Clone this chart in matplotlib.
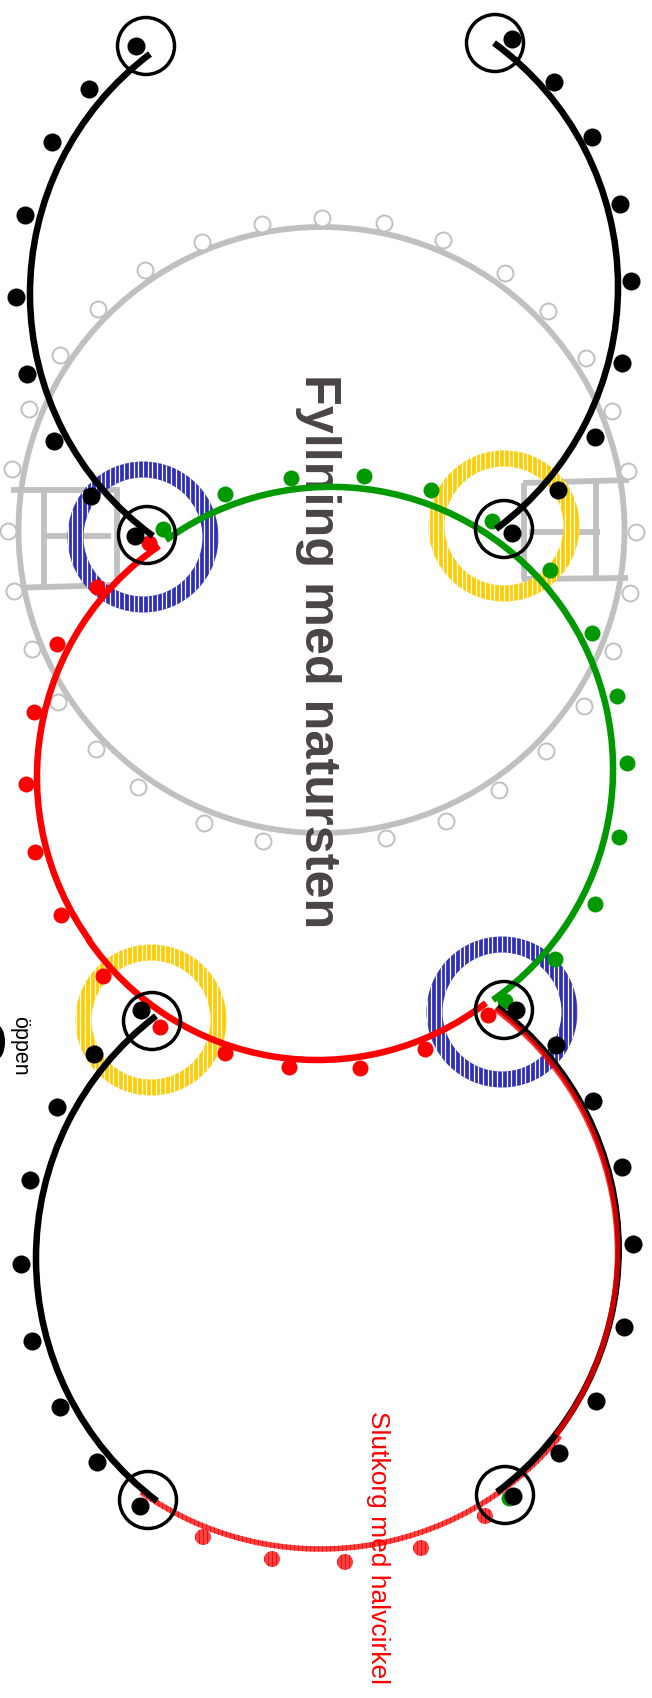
import numpy as np
import matplotlib
matplotlib.use("Agg")
import matplotlib.pyplot as plt
from matplotlib.patches import Wedge, Circle, Ellipse

RED = "#ff0000"
GREEN = "#009900"
BLUE = "#2e2eb8"
YELLOW = "#ffcc00"
GREY = "#c0c0c0"
TEXT_GREY = "#4a4444"

grey_x = [322, 384, 443, 505, 548, 586, 612, 628, 636, 630, 613, 584, 546, 499, 446, 386, 263, 204, 138, 96, 58, 32, 14, 8, 12, 29, 60, 98, 145, 202, 262]
grey_y = [219, 224, 241, 274, 312, 359, 412, 472, 533, 594, 652, 707, 752, 791, 822, 839, 842, 824, 788, 750, 703, 650, 592, 532, 470, 410, 356, 310, 271, 243, 225]

black_top_x = [136, 89, 52, 25, 16, 27, 54, 91, 135, 512, 554, 592, 620, 631, 622, 595, 558, 512]
black_top_y = [47, 90, 143, 216, 298, 375, 442, 497, 537, 40, 83, 138, 205, 282, 364, 438, 491, 534]
black_low_x = [141, 94, 57, 30, 21, 32, 60, 97, 140, 516, 556, 593, 622, 633, 624, 596, 559, 513]
black_low_y = [1011, 1055, 1108, 1181, 1265, 1342, 1408, 1463, 1507, 1011, 1046, 1102, 1168, 1245, 1328, 1402, 1454, 1497]

green_x = [163, 225, 291, 364, 431, 492, 550, 592, 617, 627, 619, 595, 555, 505, 509]
green_y = [530, 495, 479, 477, 491, 522, 571, 634, 697, 764, 838, 905, 960, 1002, 1499]

red_x = [149, 97, 57, 34, 26, 35, 61, 103, 160, 225, 289, 360, 425, 488]
red_y = [544, 588, 645, 713, 785, 853, 916, 977, 1028, 1054, 1068, 1069, 1050, 1016]

basket_x = [485, 421, 345, 272, 203]
basket_y = [1517, 1549, 1563, 1560, 1538]

ring_x = [146, 495, 147, 504, 152, 504, 148, 505]
ring_y = [47, 44, 536, 530, 1022, 1011, 1501, 1496]

blue_ring_x = [143, 502]
blue_ring_y = [538, 1013]
yellow_ring_x = [504, 151]
yellow_ring_y = [527, 1021]

# arcs as start, middle, end
black_arcs = [
    [(150, 55), (30, 292), (153, 537)],
    [(494, 44), (618, 290), (496, 530)],
    [(156, 1017), (36, 1258), (157, 1502)],
    [(497, 1008), (618.7, 1250), (497, 1493)],
]
green_arc = [(166, 541), (340, 488), (493, 1001)]
red_arcs = [
    [(159, 547), (37, 783), (90, 942)],
    [(88, 940), (320, 1061), (486, 1004)],
]
basket_arc_full = [(141, 1493), (320, 1550), (560, 1437)]
basket_arc_upper = [(495, 1010), (617.5, 1250), (556, 1436)]

# grey stands: (x0, y0, x1, y1)
stands_x0 = [11, 117, 9, 44, 41, 523, 524, 522, 596, 529]
stands_y0 = [491, 491, 589, 491, 537, 484, 484, 580, 483, 533]
stands_x1 = [120, 117, 117, 44, 111, 629, 524, 628, 596, 600]
stands_y1 = [491, 585, 586, 589, 537, 481, 580, 579, 580, 533]

# the cut-off black shape at the left edge
blob_x = -3
blob_y = 1043


def arc_wedge(pts, width, **kwargs):
    (ax_, ay), (bx, by), (cx, cy) = pts
    d = 2 * (ax_ * (by - cy) + bx * (cy - ay) + cx * (ay - by))
    ux = ((ax_**2 + ay**2) * (by - cy) + (bx**2 + by**2) * (cy - ay) + (cx**2 + cy**2) * (ay - by)) / d
    uy = ((ax_**2 + ay**2) * (cx - bx) + (bx**2 + by**2) * (ax_ - cx) + (cx**2 + cy**2) * (bx - ax_)) / d
    r = np.hypot(ax_ - ux, ay - uy)
    t0 = np.degrees(np.arctan2(ay - uy, ax_ - ux)) % 360
    t1 = np.degrees(np.arctan2(by - uy, bx - ux)) % 360
    t2 = np.degrees(np.arctan2(cy - uy, cx - ux)) % 360
    if (t1 - t0) % 360 > (t2 - t0) % 360:
        t0, t2 = t2, t0
    return Wedge((ux, uy), r + width / 2, t0, t2, width=width, linewidth=0, **kwargs)


def stripes(patch, x0, x1, color, lw, zorder, step=4.7):
    lines = ax.vlines(np.arange(x0, x1, step), 0, 1699, colors=color, linewidth=lw, zorder=zorder)
    lines.set_clip_path(patch)


fig = plt.figure(figsize=(6.52, 16.99), dpi=100)
ax = fig.add_axes([0, 0, 1, 1])
ax.set_xlim(0, 652)
ax.set_ylim(1699, 0)
ax.axis("off")

# grey layer
ax.add_patch(Circle((321.5, 531), 303, fill=False, edgecolor=GREY, linewidth=4.2, zorder=1))
for x0, y0, x1, y1 in zip(stands_x0, stands_y0, stands_x1, stands_y1):
    ax.plot([x0, x1], [y0, y1], color=GREY, linewidth=4.2, solid_capstyle="butt", zorder=1)
ax.plot(grey_x, grey_y, "o", ms=11.5, mfc="white", mec=GREY, mew=1.4, ls="none", zorder=2)

# striped rings
for xs, ys, col in [(blue_ring_x, blue_ring_y, BLUE), (yellow_ring_x, yellow_ring_y, YELLOW)]:
    for cx, cy in zip(xs, ys):
        w = Wedge((cx, cy), 75.5, 0, 360, width=16, facecolor=col, linewidth=0, zorder=3)
        ax.add_patch(w)
        stripes(w, cx - 80, cx + 80, "white", 0.9, 3.1)

ax.text(305, 374, "Fyllning med natursten", rotation=-90, rotation_mode="anchor", ha="left", va="baseline",
        family="Liberation Sans", weight="bold", fontsize=36.3, color=TEXT_GREY, zorder=4)
ax.text(371, 1411, "Slutkorg med halvcirkel", rotation=-90, rotation_mode="anchor", ha="left", va="baseline",
        family="Liberation Sans", fontsize=19, color=RED, zorder=4)
ax.text(14, 1016, "öppen", rotation=-90, rotation_mode="anchor", ha="left", va="baseline",
        family="Liberation Sans", fontsize=15.5, color="black", zorder=4)
ax.add_patch(Ellipse((blob_x, blob_y), 16, 34, facecolor="black", linewidth=0, zorder=4))

# green and red routes
ax.add_patch(arc_wedge(green_arc, 6.5, facecolor=GREEN, zorder=5))
ax.plot(green_x, green_y, "o", ms=11.5, color=GREEN, mew=0, ls="none", zorder=5)
for pts in red_arcs:
    ax.add_patch(arc_wedge(pts, 6.5, facecolor=RED, zorder=6))
ax.plot(red_x, red_y, "o", ms=11.5, color=RED, mew=0, ls="none", zorder=6)

# end basket, half circle
low = arc_wedge(basket_arc_full, 5.5, facecolor=RED, alpha=0.75, zorder=6)
ax.add_patch(low)
stripes(low, 130, 565, "#f01010", 0.7, 6.1, step=4)
for x, y in zip(basket_x, basket_y):
    c = Circle((x, y), 8, facecolor=RED, alpha=0.75, linewidth=0, zorder=6)
    ax.add_patch(c)
    stripes(c, x - 8, x + 8, "#f01010", 0.7, 6.1, step=4)

# black routes
for pts in black_arcs:
    ax.add_patch(arc_wedge(pts, 6.5, facecolor="black", zorder=7))
ax.plot(black_top_x + black_low_x, black_top_y + black_low_y, "o", ms=13, color="black", mew=0, ls="none", zorder=7)

up = arc_wedge(basket_arc_upper, 5.5, facecolor=RED, alpha=0.8, zorder=8)
ax.add_patch(up)

for x, y in zip(ring_x, ring_y):
    ax.add_patch(Circle((x, y), 28.5, fill=False, edgecolor="black", linewidth=2.5, zorder=9))

fig.savefig("out.png", dpi=100)
